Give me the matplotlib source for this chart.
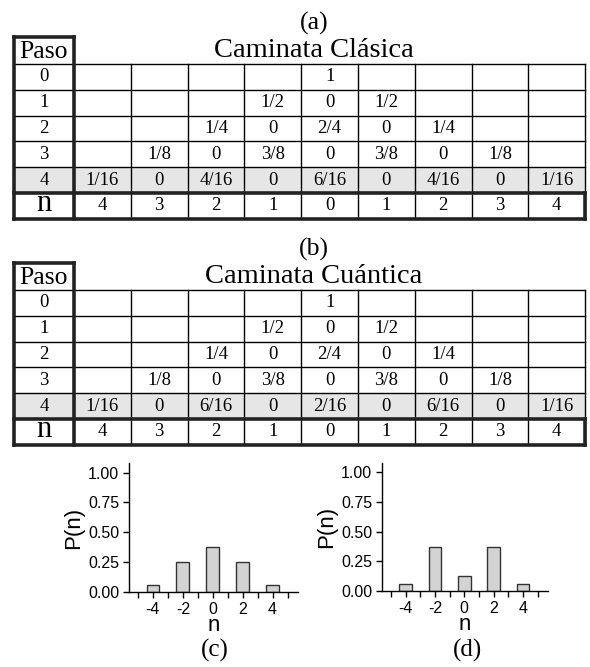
import matplotlib.pyplot as plt
from matplotlib.patches import Rectangle

# Datos de las tablas
pasos = ['0', '1', '2', '3', '4']
n_labels = ['4', '3', '2', '1', '0', '1', '2', '3', '4']
filas_clasica = [
    ['', '', '', '', '1', '', '', '', ''],
    ['', '', '', '1/2', '0', '1/2', '', '', ''],
    ['', '', '1/4', '0', '2/4', '0', '1/4', '', ''],
    ['', '1/8', '0', '3/8', '0', '3/8', '0', '1/8', ''],
    ['1/16', '0', '4/16', '0', '6/16', '0', '4/16', '0', '1/16'],
]
filas_cuantica = [
    ['', '', '', '', '1', '', '', '', ''],
    ['', '', '', '1/2', '0', '1/2', '', '', ''],
    ['', '', '1/4', '0', '2/4', '0', '1/4', '', ''],
    ['', '1/8', '0', '3/8', '0', '3/8', '0', '1/8', ''],
    ['1/16', '0', '6/16', '0', '2/16', '0', '6/16', '0', '1/16'],
]

# Datos de las barras
n_vals = [-4, -2, 0, 2, 4]
p_clasica = [1/16, 4/16, 6/16, 4/16, 1/16]
p_cuantica = [1/16, 6/16, 2/16, 6/16, 1/16]

SERIF = 'Liberation Serif'
SANS = 'Liberation Sans'
plt.rcParams['axes.unicode_minus'] = False

fig = plt.figure(figsize=(5.9, 6.67), dpi=100)
canvas = fig.add_axes([0, 0, 1, 1])
canvas.set_xlim(0, 590)
canvas.set_ylim(667, 0)
canvas.axis('off')


def draw_table(ax, top, letra, titulo, filas):
    x0, paso_w, col_w = 14, 60, 56.8
    head_h, row_h = 27, 25.8
    xg = x0 + paso_w
    x1 = xg + col_w * len(n_labels)
    y_rows = top + head_h
    y_n = y_rows + row_h * len(filas)
    y_end = y_n + row_h
    thin, thick = 1.0, 2.6

    # fila gris (ultimo paso)
    ax.add_patch(Rectangle((x0, y_n - row_h), x1 - x0, row_h,
                           facecolor='#e6e6e6', edgecolor='none', zorder=0))

    # lineas horizontales finas
    for i in range(len(filas)):
        y = y_rows + i * row_h
        ax.plot([x0, x1], [y, y], color='black', lw=thin)
    # verticales finas
    for j in range(1, len(n_labels) + 1):
        x = xg + j * col_w
        ax.plot([x, x], [y_rows, y_end], color='black', lw=thin)

    # lineas gruesas
    ax.plot([x0, x0], [top, y_end], color='#222222', lw=thick)
    ax.plot([xg, xg], [top, y_end], color='#222222', lw=thick)
    ax.plot([x0, xg], [top, top], color='#222222', lw=thick)
    ax.plot([x0, x1], [y_n, y_n], color='#222222', lw=thick)
    ax.plot([x0, x1], [y_end, y_end], color='#222222', lw=thick)
    ax.plot([x1, x1], [y_n, y_end], color='#222222', lw=thick)

    # textos
    ax.text(x0 + paso_w / 2, top + head_h / 2 + 1, 'Paso', family=SERIF,
            fontsize=18.5, ha='center', va='center')
    ax.text(314, top - 14, letra, family=SERIF, fontsize=18.5,
            ha='center', va='center')
    ax.text(314, top + head_h / 2, titulo, family=SERIF, fontsize=20.5,
            ha='center', va='center')
    for i, fila in enumerate(filas):
        yc = y_rows + (i + 0.5) * row_h
        ax.text(x0 + paso_w / 2, yc, pasos[i], family=SERIF, fontsize=13.5,
                ha='center', va='center')
        for j, val in enumerate(fila):
            ax.text(xg + (j + 0.5) * col_w, yc, val, family=SERIF,
                    fontsize=13.5, ha='center', va='center')
    yc = y_n + row_h / 2
    ax.text(x0 + paso_w / 2, yc - 2, 'n', family=SERIF, fontsize=22,
            ha='center', va='center')
    for j, lab in enumerate(n_labels):
        ax.text(xg + (j + 0.5) * col_w, yc, lab, family=SERIF,
                fontsize=13.5, ha='center', va='center')


draw_table(canvas, 37, '(a)', 'Caminata Clásica', filas_clasica)
draw_table(canvas, 263, '(b)', 'Caminata Cuántica', filas_cuantica)


def draw_bars(rect, probs):
    ax = fig.add_axes(rect)
    ax.bar(n_vals, probs, width=0.85, color='#d3d3d3',
           edgecolor='#333333', linewidth=1.0)
    ax.set_xlim(-5.6, 5.7)
    ax.set_ylim(0, 1.08)
    ax.set_yticks([0, 0.25, 0.5, 0.75, 1.0])
    ax.set_yticklabels(['0.00', '0.25', '0.50', '0.75', '1.00'])
    ax.set_xticks(n_vals)
    ax.set_xticks(range(-5, 6), minor=True)
    for s in ['top', 'right']:
        ax.spines[s].set_visible(False)
    for s in ['left', 'bottom']:
        ax.spines[s].set_linewidth(1.0)
    ax.tick_params(axis='both', which='both', direction='out', length=4,
                   width=1.0, labelsize=11.5, pad=3)
    for lab in ax.get_xticklabels() + ax.get_yticklabels():
        lab.set_family(SANS)
    ax.set_ylabel('P(n)', family=SANS, fontsize=16, labelpad=3)
    ax.set_xlabel('n', family=SANS, fontsize=16, labelpad=-1)
    ax.patch.set_alpha(0)
    return ax


draw_bars([129 / 590, 75 / 667, 169 / 590, 129 / 667], p_clasica)
draw_bars([382 / 590, 76 / 667, 166 / 590, 128 / 667], p_cuantica)
canvas.text(215, 650, '(c)', family=SERIF, fontsize=18, ha='center', va='center')
canvas.text(467, 650, '(d)', family=SERIF, fontsize=18, ha='center', va='center')

fig.savefig('out.png', dpi=100)
